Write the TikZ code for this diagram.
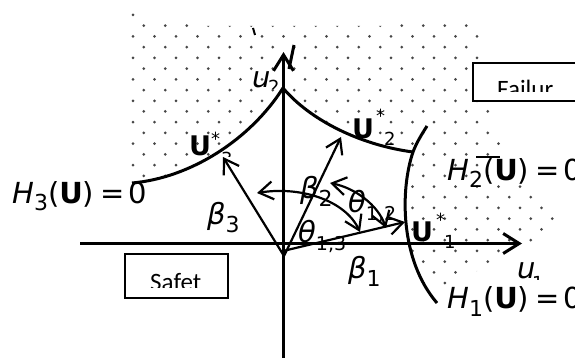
\documentclass[tikz,border=0pt]{standalone}
\usepackage{fontspec}
\usetikzlibrary{arrows.meta}
\newfontfamily\mf[ItalicFont={DejaVu Sans Oblique},BoldFont={DejaVu Sans Bold}]{DejaVu Sans}
\newfontfamily\tf{Carlito}
\newcommand\msize{\fontsize{29}{32}\selectfont}
\newcommand\sbs[1]{\raisebox{-8pt}{\fontsize{22}{24}\selectfont #1}}
\newcommand\sbt[1]{\raisebox{-8pt}{\fontsize{19}{22}\selectfont #1}}
\newcommand\mi[1]{{\itshape #1}}
\newcommand\bU{{\bfseries U}}
\begin{document}
\begin{tikzpicture}[x=1pt,y=-1pt,
  lab/.style={font=\mf\msize, inner sep=0pt, anchor=base west},
  ulab/.style={font=\mf\bfseries\fontsize{27}{30}\selectfont, inner sep=0pt, anchor=base west},
  small/.style={font=\mf\fontsize{18}{20}\selectfont, inner sep=0pt, anchor=base west},
  btext/.style={font=\tf\fontsize{25}{28}\selectfont, inner sep=0pt, anchor=base west},
  axis/.style={line width=3pt, -{Straight Barb[length=16pt,width=20pt]}},
  curve/.style={line width=3pt},
  vec/.style={line width=2.2pt, -{Straight Barb[length=14pt,width=18pt]}},
  ang/.style={line width=2.2pt, {Straight Barb[length=14pt,width=18pt]}-{Straight Barb[length=14pt,width=18pt]}},
  tbox/.style={draw, line width=2pt, fill=white},
  dot/.style={fill=black!72}]
\clip (0,0) rectangle (575,358);
% dotted failure region
\begin{scope}
\clip (128,10) -- (150,10) -- (150,21) -- (200,21) -- (200,26) -- (395,26) -- (395,21) -- (482,21)
  -- (482,105) -- (492,112) -- (500,140) -- (520,180) -- (535,195) -- (548,205) -- (556,215)
  -- (556,222) -- (545,232) -- (535,242) -- (502,250) -- (492,265) -- (480,270) -- (460,277)
  -- (450,285) -- (440,292) -- (128,292) -- cycle;
\foreach \r in {0,...,26} {
  \foreach \c in {0,...,20} {
    \pgfmathsetmacro\xx{133+21.5*\c+10.75*mod(\r,2)}
    \pgfmathsetmacro\yy{15+10.72*\r}
    \fill[dot] (\xx,\yy) circle (1.5pt);
  }
}
\end{scope}
% safe region
\fill[white] (100,183) -- (132,183) .. controls (190,178) and (250,140) .. (283,88)
  .. controls (310,120) and (360,145) .. (413,152)
  .. controls (400,190) and (400,260) .. (437,303) -- (437,358) -- (100,358) -- cycle;
% text boxes
\node[tbox, minimum width=130pt, minimum height=38pt, anchor=north west] (fbox) at (472,62) {};
\node[tbox, minimum width=103pt, minimum height=44pt, anchor=north west] (sbox) at (124,253) {};
\begin{scope}
\clip (472,62) rectangle (575,92);
\node[btext] (ftext) at (497,98) {Failur};
\end{scope}
\begin{scope}
\clip (124,253) rectangle (227,287);
\node[btext] (stext) at (150,290) {Safet};
\end{scope}
% limit state curves
\coordinate (h3a) at (132,183);
\coordinate (top) at (283,88);
\coordinate (h12) at (413,152);
\coordinate (h1a) at (427,126);
\coordinate (h1b) at (437,303);
\draw[curve] (h3a) .. controls (190,178) and (250,140) .. (top);
\draw[curve] (top) .. controls (310,120) and (360,145) .. (h12);
\draw[curve] (h1a) .. controls (420,137) and (416,144) .. (h12) .. controls (400,190) and (400,260) .. (h1b);
% axes
\coordinate (xl) at (80,243.5);
\coordinate (xr) at (522,243.5);
\coordinate (yb) at (283.5,362);
\coordinate (yt) at (283.5,52);
\draw[axis] (xl) -- (xr);
\draw[axis] (yb) -- (yt);
% vectors
\coordinate (O) at (284,256);
\coordinate (O1) at (283,251);
\coordinate (U3) at (223,157);
\coordinate (U2) at (341,137);
\coordinate (U1) at (405,222);
\draw[vec] (O) -- (U3);
\draw[vec] (O) -- (U2);
\draw[vec] (O1) -- (U1);
% angle arcs
\coordinate (a13s) at (257,193);
\coordinate (a13e) at (360,232);
\draw[ang] (a13s) .. controls (300,186) and (345,200) .. (a13e);
\coordinate (a12s) at (330,183);
\coordinate (a12e) at (386,228);
\draw[ang] (a12s) .. controls (355,188) and (378,205) .. (a12e);
% stray strokes
\coordinate (s1a) at (253,28); \coordinate (s1b) at (255,35);
\draw[line width=2pt] (s1a) -- (s1b);
\coordinate (s2a) at (294,45); \coordinate (s2b) at (289,69);
\draw[line width=3pt] (s2a) -- (s2b);
\coordinate (s3a) at (476,157); \coordinate (s3b) at (500,157);
\draw[line width=2pt] (s3a) -- (s3b);
% labels
\node[lab] (H3) at (12,203) {\mi{H}\sbs{3}(\bU)\hspace{6pt}=\hspace{4pt}0};
\node[lab] (H2) at (447,180) {\mi{H}\sbs{2}(\bU)\hspace{6pt}=\hspace{4pt}0};
\node[lab] (H1) at (447,308) {\mi{H}\sbs{1}(\bU)\hspace{6pt}=\hspace{4pt}0};
\node[lab] (b3) at (207,224) {\mi{β}\sbs{3}};
\node[lab] (b2) at (300,198) {\mi{β}\sbs{2}};
\node[lab] (b1) at (348,278) {\mi{β}\sbs{1}};
\node[lab] (t12) at (348,212) {\mi{θ}\sbt{1,2}};
\node[lab] (t13) at (298,242) {\mi{θ}\sbt{1,3}};
% design points
\node[ulab] (U3l) at (189,156) {U};
\node[small] (U3s) at (211,146) {*};
\begin{scope}
\clip (215,140) rectangle (235,157);
\node[small] (U3n) at (221,166) {3};
\end{scope}
\node[ulab] (U2l) at (352,139) {U};
\node[small] (U2s) at (376,123) {*};
\node[small] (U2n) at (384,146) {2};
\node[ulab] (U1l) at (411,241) {U};
\node[small] (U1s) at (436,226) {*};
\node[small] (U1n) at (444,248) {1};
% axis labels
\node[lab] (u2) at (252,88) {\mi{u}};
\begin{scope}
\clip (265,70) rectangle (285,88.5);
\node[small] (u2n) at (268,94) {2};
\end{scope}
\node[lab] (u1) at (517,278) {\mi{u}};
\begin{scope}
\clip (530,265) rectangle (545,279);
\node[small] (u1n) at (532,289) {1};
\end{scope}
\end{tikzpicture}
\end{document}
